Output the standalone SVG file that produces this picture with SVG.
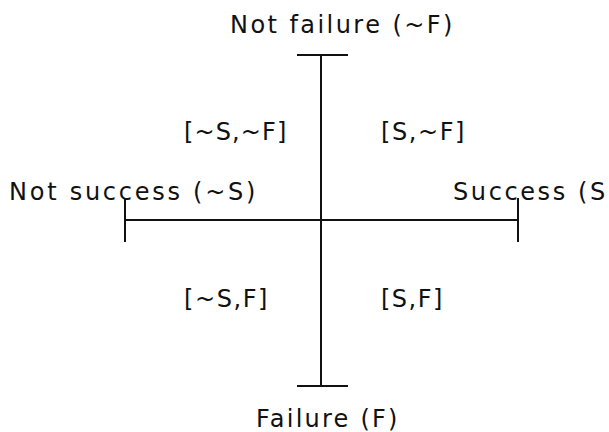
<svg xmlns="http://www.w3.org/2000/svg" width="609" height="432" viewBox="0 0 609 432">
<style>
  .ax { stroke: #111; stroke-width: 2; fill: none; }
  .lbl { font-family: "DejaVu Sans", "Liberation Sans", sans-serif; font-size: 24px; fill: #111; letter-spacing: 2.6px; }
</style>
<rect width="609" height="432" fill="#fff"/>
<g id="connectors">
  <line class="ax" x1="321" y1="55" x2="321" y2="386"/>
  <line class="ax" x1="297" y1="55" x2="348" y2="55"/>
  <line class="ax" x1="297" y1="386" x2="348" y2="386"/>
  <line class="ax" x1="125" y1="220" x2="518" y2="220"/>
  <line class="ax" x1="125" y1="198" x2="125" y2="242"/>
  <line class="ax" x1="518" y1="198" x2="518" y2="242"/>
</g>
<g id="not-failure"><text class="lbl" x="230" y="33" textLength="225" lengthAdjust="spacing">Not failure (~F)</text></g>
<g id="failure"><text class="lbl" x="256" y="427" textLength="144" lengthAdjust="spacing">Failure (F)</text></g>
<g id="not-success"><text class="lbl" x="9" y="200" textLength="249" lengthAdjust="spacing">Not success (~S)</text></g>
<g id="success"><text class="lbl" x="453" y="200">Success (S)</text></g>
<g id="q-nsnf"><text class="lbl" x="184" y="140" textLength="105" lengthAdjust="spacing">[~S,~F]</text></g>
<g id="q-snf"><text class="lbl" x="381" y="140" textLength="86" lengthAdjust="spacing">[S,~F]</text></g>
<g id="q-nsf"><text class="lbl" x="184" y="307" textLength="86" lengthAdjust="spacing">[~S,F]</text></g>
<g id="q-sf"><text class="lbl" x="381" y="307" textLength="64" lengthAdjust="spacing">[S,F]</text></g>
</svg>
